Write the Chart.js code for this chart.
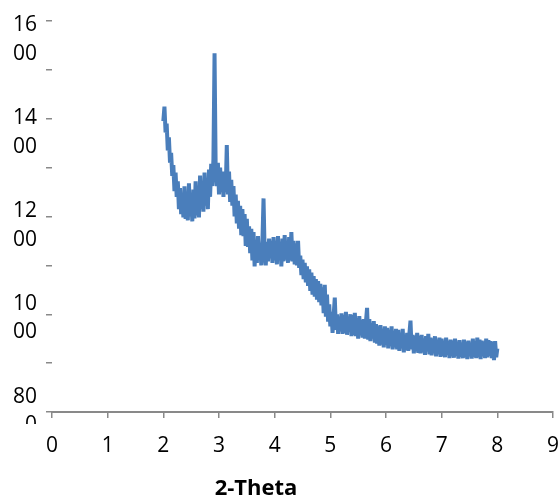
<!DOCTYPE html>
<html>
<head>
<meta charset="utf-8">
<script src="https://cdn.jsdelivr.net/npm/chart.js@4/dist/chart.umd.min.js"></script>
<style>
  html, body { margin: 0; padding: 0; background: #fff; }
  #wrap { width: 558px; height: 500px; }
</style>
</head>
<body>
<div id="wrap"><canvas id="chart" width="558" height="500"></canvas></div>
<script>
// 2-theta positions (deg)
const twoTheta = [
  2.00, 2.02, 2.04, 2.06, 2.08, 2.10, 2.12, 2.14, 2.16, 2.18,
  2.20, 2.22, 2.24, 2.26, 2.28, 2.30, 2.32, 2.34, 2.36, 2.38,
  2.40, 2.42, 2.44, 2.46, 2.48, 2.50, 2.52, 2.54, 2.56, 2.58,
  2.60, 2.62, 2.64, 2.66, 2.68, 2.70, 2.72, 2.74, 2.76, 2.78,
  2.80, 2.82, 2.84, 2.86, 2.88, 2.90, 2.92, 2.94, 2.96, 2.98,
  3.00, 3.02, 3.04, 3.06, 3.08, 3.10, 3.12, 3.14, 3.16, 3.18,
  3.20, 3.22, 3.24, 3.26, 3.28, 3.30, 3.32, 3.34, 3.36, 3.38,
  3.40, 3.42, 3.44, 3.46, 3.48, 3.50, 3.52, 3.54, 3.56, 3.58,
  3.60, 3.62, 3.64, 3.66, 3.68, 3.70, 3.72, 3.74, 3.76, 3.78,
  3.80, 3.82, 3.84, 3.86, 3.88, 3.90, 3.92, 3.94, 3.96, 3.98,
  4.00, 4.02, 4.04, 4.06, 4.08, 4.10, 4.12, 4.14, 4.16, 4.18,
  4.20, 4.22, 4.24, 4.26, 4.28, 4.30, 4.32, 4.34, 4.36, 4.38,
  4.40, 4.42, 4.44, 4.46, 4.48, 4.50, 4.52, 4.54, 4.56, 4.58,
  4.60, 4.62, 4.64, 4.66, 4.68, 4.70, 4.72, 4.74, 4.76, 4.78,
  4.80, 4.82, 4.84, 4.86, 4.88, 4.90, 4.92, 4.94, 4.96, 4.98,
  5.00, 5.02, 5.04, 5.06, 5.08, 5.10, 5.12, 5.14, 5.16, 5.18,
  5.20, 5.22, 5.24, 5.26, 5.28, 5.30, 5.32, 5.34, 5.36, 5.38,
  5.40, 5.42, 5.44, 5.46, 5.48, 5.50, 5.52, 5.54, 5.56, 5.58,
  5.60, 5.62, 5.64, 5.66, 5.68, 5.70, 5.72, 5.74, 5.76, 5.78,
  5.80, 5.82, 5.84, 5.86, 5.88, 5.90, 5.92, 5.94, 5.96, 5.98,
  6.00, 6.02, 6.04, 6.06, 6.08, 6.10, 6.12, 6.14, 6.16, 6.18,
  6.20, 6.22, 6.24, 6.26, 6.28, 6.30, 6.32, 6.34, 6.36, 6.38,
  6.40, 6.42, 6.44, 6.46, 6.48, 6.50, 6.52, 6.54, 6.56, 6.58,
  6.60, 6.62, 6.64, 6.66, 6.68, 6.70, 6.72, 6.74, 6.76, 6.78,
  6.80, 6.82, 6.84, 6.86, 6.88, 6.90, 6.92, 6.94, 6.96, 6.98,
  7.00, 7.02, 7.04, 7.06, 7.08, 7.10, 7.12, 7.14, 7.16, 7.18,
  7.20, 7.22, 7.24, 7.26, 7.28, 7.30, 7.32, 7.34, 7.36, 7.38,
  7.40, 7.42, 7.44, 7.46, 7.48, 7.50, 7.52, 7.54, 7.56, 7.58,
  7.60, 7.62, 7.64, 7.66, 7.68, 7.70, 7.72, 7.74, 7.76, 7.78,
  7.80, 7.82, 7.84, 7.86, 7.88, 7.90, 7.92, 7.94, 7.96, 7.98,
  8.00
];

// intensity
const intensity = [
  1395, 1425, 1372, 1390, 1335, 1362, 1310, 1330, 1283, 1305,
  1252, 1290, 1240, 1272, 1215, 1258, 1205, 1248, 1198, 1262,
  1195, 1240, 1192, 1268, 1200, 1245, 1190, 1255, 1196, 1272,
  1202, 1250, 1198, 1284, 1215, 1262, 1210, 1290, 1222, 1270,
  1215, 1296, 1240, 1308, 1262, 1318, 1534, 1300, 1262, 1310,
  1245, 1300, 1250, 1292, 1240, 1285, 1250, 1346, 1245, 1292,
  1230, 1275, 1222, 1262, 1200, 1245, 1186, 1232, 1175, 1222,
  1162, 1215, 1160, 1205, 1140, 1195, 1138, 1180, 1125, 1175,
  1110, 1168, 1098, 1150, 1105, 1160, 1112, 1142, 1100, 1150,
  1237, 1125, 1100, 1148, 1108, 1155, 1115, 1150, 1105, 1158,
  1110, 1150, 1102, 1160, 1112, 1148, 1098, 1155, 1108, 1162,
  1112, 1150, 1105, 1158, 1110, 1168, 1108, 1150, 1102, 1145,
  1100, 1150, 1095, 1120, 1080, 1112, 1072, 1105, 1065, 1098,
  1058, 1092, 1048, 1085, 1040, 1078, 1036, 1072, 1030, 1068,
  1025, 1062, 1018, 1055, 1002, 1060, 995, 1040, 985, 1020,
  975, 1005, 962, 998, 1034, 968, 1000, 960, 995, 965,
  1002, 960, 998, 962, 1005, 958, 995, 965, 1000, 955,
  998, 958, 1003, 955, 992, 950, 996, 957, 988, 952,
  990, 950, 985, 1013, 948, 990, 945, 982, 950, 986,
  942, 980, 940, 975, 936, 978, 938, 970, 932, 975,
  938, 972, 930, 968, 935, 975, 928, 966, 932, 970,
  928, 968, 925, 962, 930, 970, 922, 958, 927, 962,
  925, 960, 987, 928, 958, 920, 955, 924, 962, 921,
  955, 920, 958, 922, 950, 917, 955, 924, 960, 918,
  952, 916, 950, 920, 955, 914, 948, 918, 952, 913,
  950, 915, 946, 912, 952, 917, 945, 910, 948, 914,
  946, 911, 950, 915, 944, 909, 947, 913, 942, 910,
  948, 912, 944, 908, 946, 914, 942, 909, 950, 913,
  945, 910, 952, 912, 948, 908, 946, 914, 944, 910,
  950, 912, 947, 915, 945, 910, 943, 906, 945, 912,
  930
];

const xTicks = [0, 1, 2, 3, 4, 5, 6, 7, 8, 9];
const yLabelValues = [800, 1000, 1200, 1400, 1600];

const FONT = '"Open Sans", "DejaVu Sans", sans-serif';
const AXIS_GRAY = '#898989';

// excel wraps the y labels after two digits and the last one gets cut by the axis
const clipCorner = {
  id: 'clipCorner',
  beforeDraw(chart) {
    const { ctx, chartArea } = chart;
    ctx.save();
    ctx.beginPath();
    ctx.rect(0, 0, chart.width, chart.height);
    ctx.rect(0, chartArea.bottom + 12, 44, chart.height);
    ctx.clip('evenodd');
  },
  afterDraw(chart) {
    chart.ctx.restore();
  }
};

new Chart(document.getElementById('chart'), {
  type: 'line',
  data: {
    labels: twoTheta,
    datasets: [{
      data: intensity,
      borderColor: '#4a7ebb',
      borderWidth: 4,
      pointRadius: 0,
      fill: false,
      tension: 0
    }]
  },
  options: {
    responsive: false,
    animation: false,
    devicePixelRatio: 1,
    layout: { padding: { top: 21, right: 5, bottom: 0, left: -41 } },
    plugins: {
      legend: { display: false },
      tooltip: { enabled: false },
      title: {
        display: true,
        position: 'bottom',
        text: '2-Theta',
        color: '#000',
        font: { family: FONT, size: 22, weight: 'bold', lineHeight: 1 },
        padding: 0
      }
    },
    scales: {
      x: {
        type: 'linear',
        min: 0,
        max: 9,
        afterBuildTicks: (s) => { s.ticks = xTicks.map(v => ({ value: v })); },
        afterFit: (s) => { s.height = 66; s.paddingLeft = 0; s.paddingRight = 0; },
        border: { display: true, color: AXIS_GRAY, width: 2 },
        grid: { drawOnChartArea: false, drawTicks: true, tickLength: 6, tickColor: AXIS_GRAY, lineWidth: 1.5 },
        ticks: {
          z: 1,
          maxRotation: 0,
          autoSkip: false,
          padding: 15,
          color: '#000',
          font: { family: FONT, size: 21 }
        }
      },
      y: {
        type: 'linear',
        position: 'left',
        weight: 0,
        min: 800,
        max: 1600,
        afterFit: (s) => { s.width = 6; s.paddingTop = 0; s.paddingBottom = 0; },
        border: { display: false },
        grid: { drawOnChartArea: false, drawTicks: true, tickLength: 6, tickColor: AXIS_GRAY, lineWidth: 1.5 },
        ticks: { stepSize: 100, padding: 0, callback: () => '' }
      },
      yl: {
        type: 'linear',
        position: 'left',
        weight: 1,
        min: 765.5,
        max: 1608,
        afterBuildTicks: (s) => { s.ticks = yLabelValues.map(v => ({ value: v })); },
        afterFit: (s) => { s.width = 87; s.paddingTop = 0; s.paddingBottom = 0; },
        border: { display: false },
        grid: { display: false, drawTicks: false },
        ticks: {
          padding: 9,
          labelOffset: 15,
          color: '#000',
          font: { family: FONT, size: 21, lineHeight: 1.36 },
          callback: (v) => { const s = String(v); return [s.slice(0, 2), s.slice(2)]; }
        }
      }
    }
  },
  plugins: [clipCorner]
});
</script>
</body>
</html>
